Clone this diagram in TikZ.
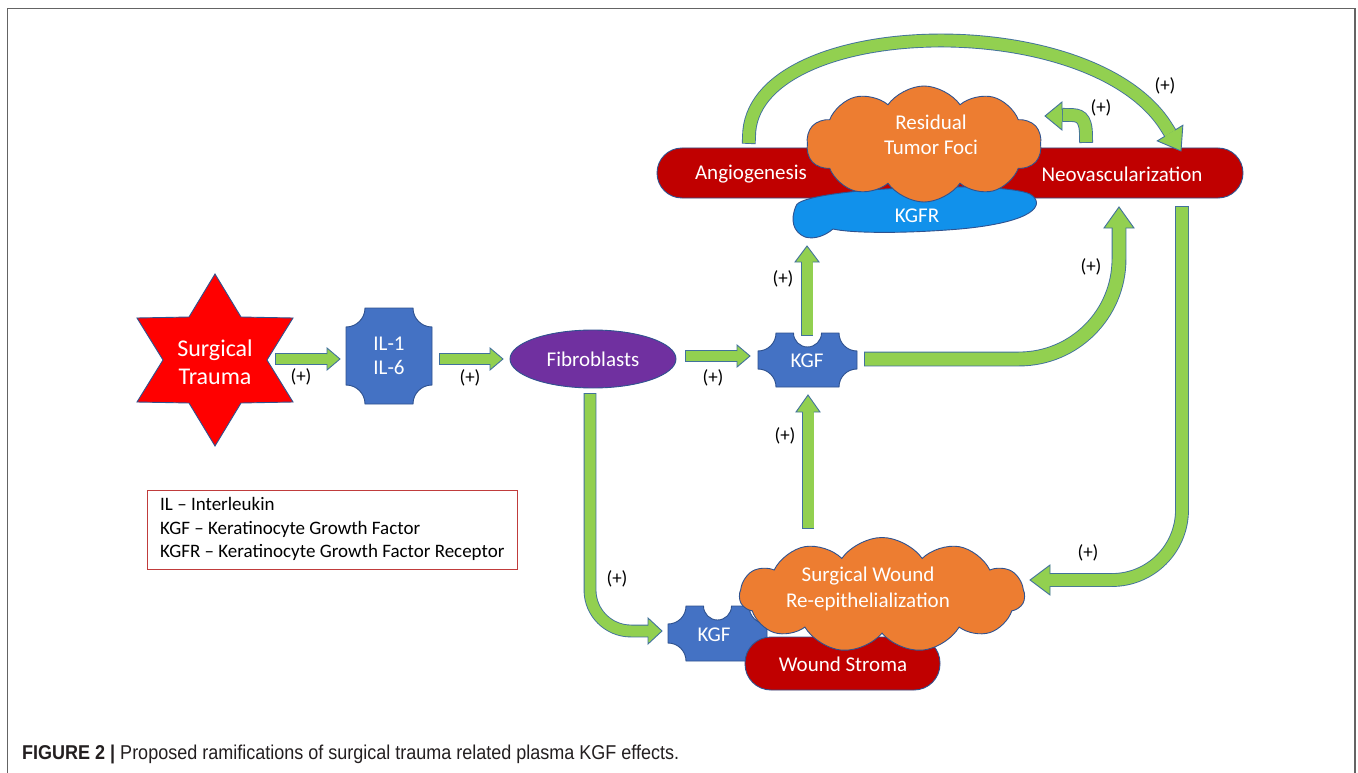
\documentclass[tikz,border=0pt]{standalone}
\usepackage{fontspec}
\setmainfont{Carlito}
\newfontfamily\capfont[FakeStretch=0.9]{Liberation Sans}
\usetikzlibrary{shapes.symbols,shapes.geometric,calc}
\definecolor{arrowgreen}{RGB}{146,208,80}
\definecolor{arrowline}{RGB}{65,113,156}
\definecolor{shapeline}{RGB}{47,82,143}
\definecolor{starred}{RGB}{255,0,0}
\definecolor{barred}{RGB}{192,0,0}
\definecolor{plaqueblue}{RGB}{68,114,196}
\definecolor{fibpurple}{RGB}{112,48,160}
\definecolor{cloudorange}{RGB}{237,125,49}
\definecolor{kgfrblue}{RGB}{17,145,235}
\definecolor{framegray}{RGB}{100,100,100}
\definecolor{legendred}{RGB}{192,60,60}
\definecolor{captext}{RGB}{35,31,32}
\newcommand\plaquepath[5]{(#1+#5,#2) -- (#3-#5,#2) arc[start angle=180,end angle=90,radius=#5] -- (#3,#4-#5) arc[start angle=270,end angle=180,radius=#5] -- (#1+#5,#4) arc[start angle=0,end angle=-90,radius=#5] -- (#1,#2+#5) arc[start angle=90,end angle=0,radius=#5] -- cycle}
\newcommand\kgfpath[6]{(#1+#5,#2) -- ({(#1+#3)/2-#6},#2) arc[start angle=180,end angle=0,radius=#6] -- (#3-#5,#2) arc[start angle=180,end angle=90,radius=#5] -- (#3,#4-#5) arc[start angle=270,end angle=180,radius=#5] -- (#1+#5,#4) arc[start angle=0,end angle=-90,radius=#5] -- (#1,#2+#5) arc[start angle=90,end angle=0,radius=#5] -- cycle}
% head: tip coordinate, rotation, shaft width, head width, head length
\newcommand\fathead[5]{\begin{scope}[shift={#1},rotate=#2]
\fill[arrowgreen] (-#5,#3/2) -- (-#5,#4/2) -- (0,0) -- (-#5,-#4/2) -- (-#5,-#3/2) -- cycle;
\draw[arrowline,line width=0.9pt,line join=miter] (-#5,#3/2) -- (-#5,#4/2) -- (0,0) -- (-#5,-#4/2) -- (-#5,-#3/2);
\end{scope}}
\tikzset{
 fat/.style={draw=arrowline,line width=0.9pt,double=arrowgreen,double distance=#1,line cap=rect},
 lbl/.style={text=white,font=\fontsize{21}{25.5}\selectfont,align=center,inner sep=0pt},
 plus/.style={text=black,font=\fontsize{19}{22}\selectfont,inner sep=0pt},
 outl/.style={draw=shapeline,line width=0.9pt}
}
\begin{document}
\begin{tikzpicture}[x=1pt,y=-1pt]
\useasboundingbox (0,0) rectangle (1358,773);
\fill[white] (0,0) rectangle (1358,773);
% frame
\draw[framegray,line width=1.6pt] (7.5,773) -- (7.5,8.5) -- (1355,8.5) -- (1355,773);

% ---------- shapes ----------
% surgical trauma star
\path[fill=starred,outl] (215,274) -- (241,317) -- (293,318) -- (267,360) -- (293,402) -- (241,403) -- (215,446) -- (189,403) -- (137,402) -- (163,360) -- (137,318) -- (189,317) -- cycle;
\node[lbl,font=\fontsize{24}{28}\selectfont] (star) at (215,362) {Surgical\\Trauma};
% IL plaque
\path[fill=plaqueblue,outl] \plaquepath{346}{308}{432}{404}{19};
\node[lbl,font=\fontsize{21}{24}\selectfont] (il) at (389,356) {IL-1\\IL-6};
% fibroblasts
\node[ellipse,fill=fibpurple,outl,minimum width=166pt,minimum height=58pt,lbl] (fib) at (593,359) {Fibroblasts};
% top KGF
\path[fill=plaqueblue,outl] \kgfpath{758}{333}{857}{387}{18}{14};
\node[lbl] (kgf) at (807,361) {KGF};
% red bar
\node[rectangle,rounded corners=25pt,fill=barred,outl,minimum width=586pt,minimum height=50pt] (bar) at (950,173) {};
\node[lbl] (angio) at (751,174) {Angiogenesis};
\node[lbl] (neo) at (1122,174) {Neovascularization};
% KGFR
\path[fill=kgfrblue,outl] (796,206) .. controls (800,188) and (1000,180) .. (1030,194) .. controls (1046,204) and (1036,222) .. (960,229) .. controls (900,234) and (850,233) .. (833,229) .. controls (826,235) and (815,240) .. (805,237) .. controls (793,232) and (790,220) .. (796,206) -- cycle;
\node[lbl] (kgfr) at (917,216) {KGFR};
% tumor cloud
\node[cloud,cloud puffs=10,cloud puff arc=110,aspect=1.85,fill=cloudorange,outl,minimum width=235pt,minimum height=116pt] (tumor) at (924,144) {};
\node[lbl] (tumortxt) at (931,135) {Residual\\Tumor Foci};
% bottom KGF
\path[fill=plaqueblue,outl] \kgfpath{668}{606}{767}{661}{18}{14};
\node[lbl] (kgfb) at (714,635) {KGF};
% wound stroma
\node[rectangle,rounded corners=26pt,fill=barred,outl,minimum width=195pt,minimum height=53pt] (stroma) at (842.5,663.5) {};
\node[lbl] (stromatxt) at (843,664) {Wound Stroma};
% wound cloud
\node[cloud,cloud puffs=11,cloud puff arc=110,aspect=2.4,fill=cloudorange,outl,minimum width=285pt,minimum height=115pt] (wound) at (882,595) {};
\node[lbl] (woundtxt) at (868,589) {Surgical Wound\\Re-epithelialization};

% ---------- connectors ----------
% trauma -> IL
\draw[fat=10pt] (281,359) -- (322,359);
\fathead{(340,359)}{0}{10}{22}{13}
\node[plus] at (301,377) {(+)};
% IL -> fibroblasts
\draw[fat=10pt] (445,359) -- (485,359);
\fathead{(503,359)}{0}{10}{22}{13}
\node[plus] at (470,378) {(+)};
% fibroblasts -> KGF
\draw[fat=10pt] (691,356) -- (732,356);
\fathead{(750,356)}{0}{10}{22}{13}
\node[plus] at (713,378) {(+)};
% KGF -> KGFR
\draw[fat=11pt] (807,329.5) -- (807,267.5);
\fathead{(807,246)}{90}{11}{24}{16}
\node[plus] at (783,279) {(+)};
% wound -> KGF
\draw[fat=11pt] (808,522.5) -- (808,417.5);
\fathead{(808,395)}{90}{11}{24}{17}
\node[plus] at (785,436) {(+)};
% fibroblasts -> bottom KGF
\draw[fat=11pt] (590,399.5) -- (590,590) arc[start angle=180,end angle=90,radius=41] -- (642.5,631);
\fathead{(662,631)}{0}{11}{26}{14}
\node[plus] at (617,579) {(+)};
% KGF -> neovascularization
\draw[fat=13pt] (871.5,359) -- (1019,359) arc[start angle=90,end angle=0,radius=100] -- (1119,234.5);
\fathead{(1119,207)}{90}{13}{30}{21}
\node[plus] at (1091,267) {(+)};
% neovascularization -> wound
\draw[fat=12pt] (1182,213) -- (1182,510) arc[start angle=0,end angle=90,radius=70] -- (1056,580);
\fathead{(1030,580)}{180}{12}{30}{20}
\node[plus] at (1088,553) {(+)};
% angiogenesis -> neovascularization (top arc)
\draw[fat=12pt] (749,137) .. controls (749,15) and (1092,5) .. (1167,128);
\fathead{(1181,151)}{-58.6}{12}{30}{21}
\node[plus] at (1165,86) {(+)};
% tumor self loop
\draw[fat=12pt] (1086,136) .. controls (1086,116) and (1079,115) .. (1069,115);
\fathead{(1045,116)}{180}{12}{28}{17}
\node[plus] at (1101,108) {(+)};

% legend
\node[draw=legendred,line width=0.9pt,minimum width=370pt,minimum height=79pt,inner sep=0pt] (legendbox) at (332,529.5) {};
\node[anchor=west,align=left,text=black,font=\fontsize{19}{23.5}\selectfont,inner sep=0pt] (legend) at (160,529) {IL -- Interleukin\\KGF -- Keratinocyte Growth Factor\\KGFR -- Keratinocyte Growth Factor Receptor};
% caption
\node[anchor=base west,inner sep=0pt,text=captext,font=\capfont\fontsize{20}{24}\selectfont] (caption) at (22,759) {\textbf{FIGURE 2 |} Proposed ramifications of surgical trauma related plasma KGF effects.};
\end{tikzpicture}
\end{document}
